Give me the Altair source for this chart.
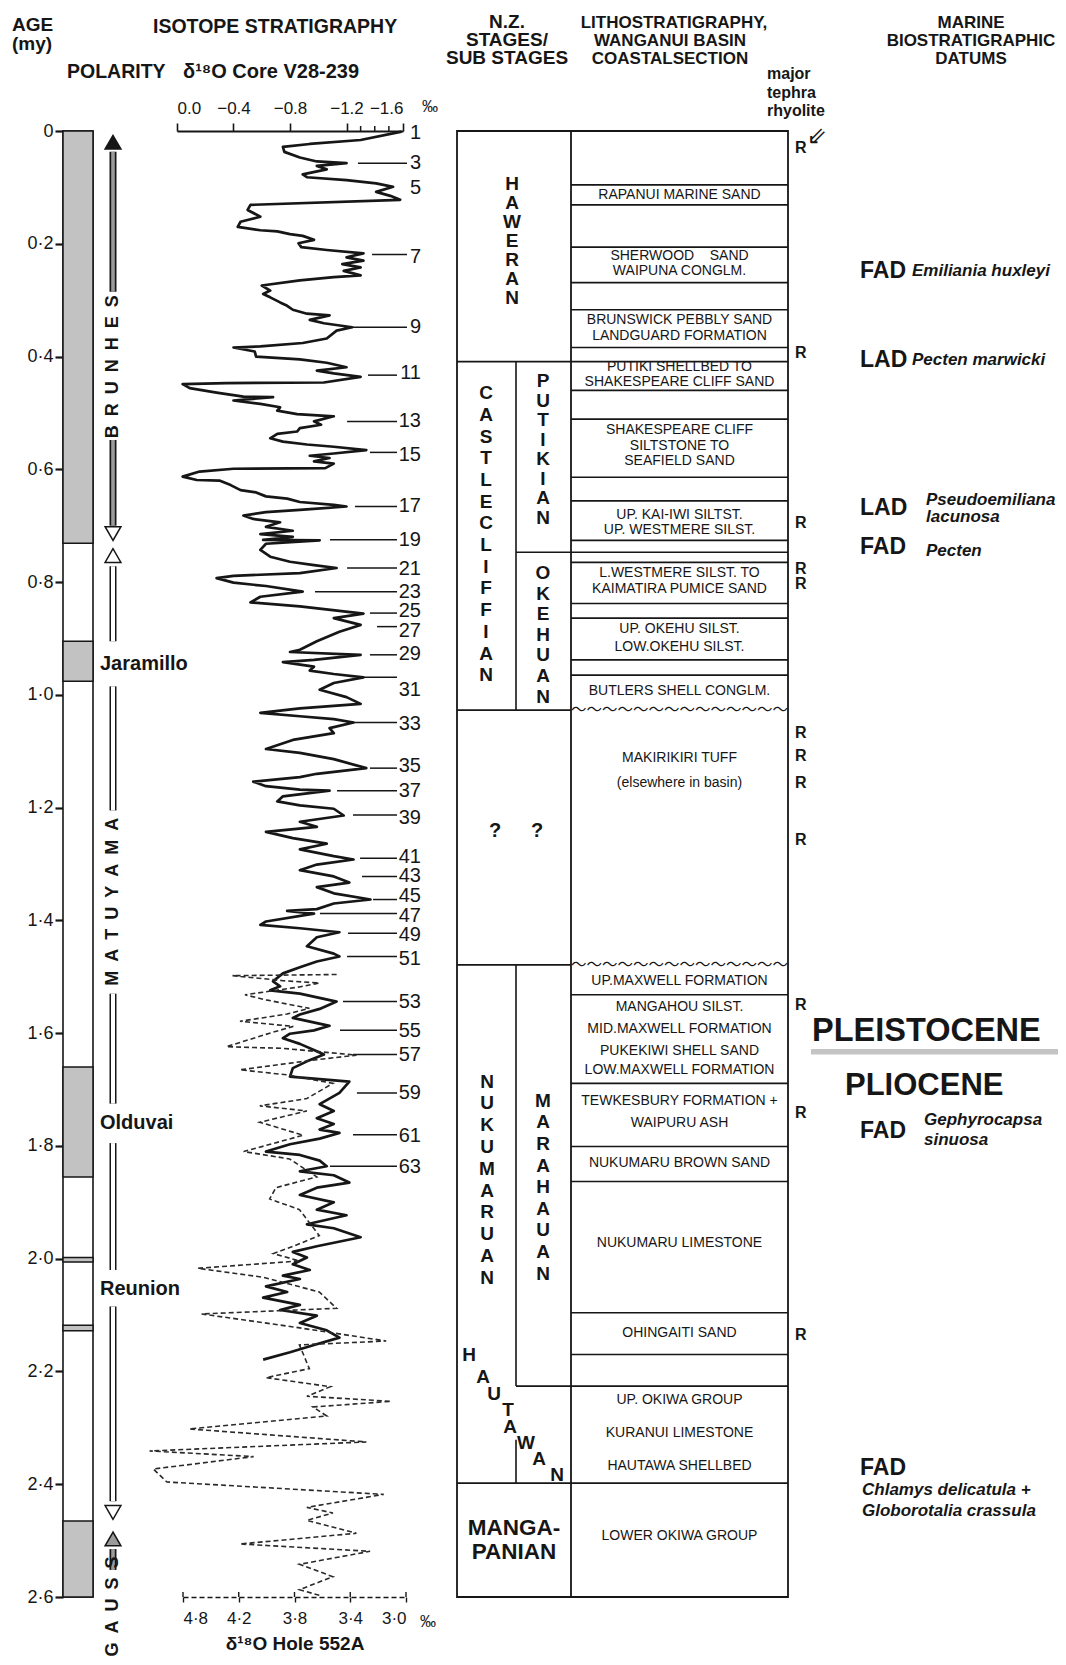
import altair as alt
import pandas as pd

FONT = "Liberation Sans"
INK = "#161616"
STIP = "#c2c2c2"
W, H = 995, 1466

# ---------------- data (ages in my, isotope values in per mil) ----------------
age_ticks = [0.0, 0.2, 0.4, 0.6, 0.8, 1.0, 1.2, 1.4, 1.6, 1.8, 2.0, 2.2, 2.4, 2.6]

normal_top = [0.0, 0.905, 1.660, 1.998, 2.118, 2.465]
normal_bottom = [0.731, 0.976, 1.855, 2.006, 2.128, 2.600]
epoch_names = ["Jaramillo", "Olduvai", "Reunion"]
epoch_age = [0.945, 1.760, 2.053]

chron_names = ["B\u2002R\u2002U\u2002N\u2002H\u2002E\u2002S",
               "M\u2002A\u2002T\u2002U\u2002Y\u2002A\u2002M\u2002A",
               "G\u2002A\u2002U\u2002S\u2002S"]
chron_age = [0.418, 1.367, 2.617]
brunhes_top = [0.037, 0.548]
brunhes_bottom = [0.285, 0.700]
matuyama_top = [0.772, 0.985, 1.530, 1.795, 2.085]
matuyama_bottom = [0.905, 1.205, 1.725, 2.020, 2.430]
gauss_top = [2.515]
gauss_bottom = [2.552]

v28_age = [0.001, 0.016, 0.023, 0.028, 0.037, 0.047, 0.054, 0.057, 0.062, 0.068, 0.077, 0.082, 0.087, 0.093,
           0.099, 0.108, 0.115, 0.122, 0.131, 0.140, 0.152, 0.161, 0.170, 0.176, 0.178, 0.183, 0.186, 0.193,
           0.199, 0.206, 0.211, 0.217, 0.224, 0.230, 0.236, 0.242, 0.248, 0.256, 0.259, 0.265, 0.274, 0.283,
           0.289, 0.295, 0.304, 0.310, 0.317, 0.324, 0.327, 0.335, 0.341, 0.348, 0.354, 0.368, 0.376, 0.382,
           0.384, 0.391, 0.400, 0.405, 0.411, 0.419, 0.425, 0.430, 0.436, 0.446, 0.447, 0.449, 0.456, 0.464,
           0.471, 0.472, 0.478, 0.484, 0.490, 0.496, 0.502, 0.506, 0.515, 0.521, 0.527, 0.533, 0.537, 0.545,
           0.551, 0.556, 0.560, 0.566, 0.572, 0.576, 0.580, 0.586, 0.590, 0.598, 0.599, 0.604, 0.613, 0.619,
           0.620, 0.628, 0.637, 0.641, 0.648, 0.652, 0.658, 0.663, 0.666, 0.672, 0.676, 0.682, 0.688, 0.694,
           0.702, 0.709, 0.715, 0.720, 0.725, 0.726, 0.732, 0.743, 0.755, 0.764, 0.770, 0.775, 0.784, 0.789,
           0.793, 0.801, 0.807, 0.817, 0.826, 0.836, 0.843, 0.856, 0.864, 0.876, 0.888, 0.905, 0.920, 0.924,
           0.929, 0.938, 0.942, 0.950, 0.957, 0.963, 0.969, 0.979, 0.991, 1.004, 1.016, 1.024, 1.032, 1.038,
           1.043, 1.049, 1.059, 1.068, 1.080, 1.096, 1.103, 1.114, 1.130, 1.140, 1.146, 1.154, 1.162, 1.168,
           1.170, 1.180, 1.189, 1.196, 1.202, 1.214, 1.225, 1.234, 1.243, 1.254, 1.264, 1.274, 1.286, 1.292,
           1.301, 1.311, 1.322, 1.333, 1.341, 1.352, 1.363, 1.370, 1.380, 1.383, 1.388, 1.402, 1.408, 1.414,
           1.421, 1.430, 1.446, 1.459, 1.464, 1.473, 1.483, 1.494, 1.508, 1.517, 1.524, 1.530, 1.544, 1.557,
           1.567, 1.573, 1.587, 1.595, 1.601, 1.609, 1.619, 1.632, 1.638, 1.650, 1.662, 1.677, 1.686, 1.706,
           1.726, 1.738, 1.751, 1.761, 1.771, 1.777, 1.787, 1.797, 1.810, 1.816, 1.826, 1.836, 1.845, 1.852,
           1.865, 1.874, 1.887, 1.900, 1.913, 1.923, 1.939, 1.946, 1.962, 1.978, 1.988, 1.998, 2.010, 2.020,
           2.030, 2.036, 2.049, 2.059, 2.069, 2.082, 2.091, 2.101, 2.114, 2.127, 2.140, 2.153, 2.166, 2.179]
v28_d18o = [-1.59, -1.30, -0.94, -0.75, -0.76, -0.87, -0.99, -1.20, -0.99, -1.06, -0.89, -0.92, -1.20, -1.41,
            -1.53, -1.41, -1.51, -1.58, -0.52, -0.50, -0.59, -0.45, -0.43, -0.59, -0.71, -0.80, -0.89, -0.97,
            -0.86, -0.88, -1.06, -1.32, -1.20, -1.32, -1.17, -1.30, -1.18, -1.30, -1.11, -0.87, -0.60, -0.66,
            -0.61, -0.66, -0.73, -0.78, -0.82, -0.92, -1.08, -0.94, -1.04, -1.24, -1.13, -1.06, -0.89, -0.59,
            -0.40, -0.55, -0.56, -0.87, -1.06, -1.20, -0.99, -1.11, -1.30, -1.04, -0.35, -0.04, -0.09, -0.28,
            -0.47, -0.68, -0.40, -0.59, -0.73, -0.71, -0.85, -1.11, -0.97, -1.02, -0.87, -0.85, -0.71, -0.66,
            -0.75, -0.92, -1.11, -1.34, -1.11, -0.94, -1.08, -0.97, -1.11, -1.05, -0.40, -0.16, -0.04, -0.14,
            -0.30, -0.38, -0.45, -0.56, -0.63, -0.78, -0.87, -1.11, -1.20, -0.87, -0.63, -0.47, -0.54, -0.73,
            -0.63, -0.82, -0.59, -0.82, -0.61, -1.01, -0.63, -0.59, -0.66, -0.80, -0.97, -1.13, -0.87, -0.40,
            -0.28, -0.40, -0.63, -0.89, -0.59, -0.52, -0.87, -1.32, -1.11, -1.30, -1.15, -0.99, -0.87, -0.80,
            -1.30, -0.97, -0.75, -0.97, -0.94, -1.11, -1.32, -1.11, -1.01, -1.20, -1.30, -0.87, -0.59, -0.87,
            -1.11, -1.25, -1.08, -1.11, -0.82, -0.63, -0.87, -1.11, -1.34, -0.99, -0.87, -0.54, -0.63, -0.87,
            -1.08, -0.75, -0.71, -0.87, -1.11, -1.18, -0.87, -0.99, -0.63, -0.82, -1.06, -0.87, -1.11, -1.25,
            -0.99, -0.87, -1.11, -1.22, -0.99, -1.11, -1.37, -1.11, -0.99, -0.78, -0.97, -0.63, -0.59, -0.87,
            -1.15, -0.99, -0.92, -1.11, -1.15, -0.99, -0.87, -0.75, -0.68, -0.73, -0.66, -0.87, -1.13, -1.01,
            -0.87, -0.82, -1.08, -0.97, -0.80, -0.75, -0.87, -0.99, -1.04, -0.92, -0.82, -0.80, -1.22, -1.15,
            -1.01, -1.11, -0.99, -1.11, -1.01, -1.15, -1.01, -0.80, -0.63, -0.87, -1.01, -1.06, -0.87, -1.11,
            -1.22, -0.99, -0.87, -1.11, -0.99, -1.20, -0.92, -1.11, -1.30, -0.99, -0.82, -0.92, -0.82, -0.94,
            -0.75, -0.87, -0.63, -0.78, -0.61, -0.87, -0.73, -0.99, -0.87, -1.06, -1.15, -0.97, -0.80, -0.61]

h552_age = [1.496, 1.498, 1.507, 1.511, 1.518, 1.532, 1.541, 1.556, 1.566, 1.579, 1.588, 1.600, 1.624, 1.627,
            1.639, 1.647, 1.665, 1.674, 1.689, 1.716, 1.729, 1.738, 1.758, 1.781, 1.810, 1.823, 1.855, 1.874,
            1.894, 1.913, 1.959, 1.978, 1.991, 2.004, 2.017, 2.033, 2.059, 2.088, 2.098, 2.121, 2.146, 2.153,
            2.195, 2.211, 2.227, 2.244, 2.253, 2.263, 2.279, 2.302, 2.325, 2.341, 2.351, 2.373, 2.396, 2.418,
            2.441, 2.451, 2.464, 2.487, 2.506, 2.519, 2.542, 2.564, 2.587, 2.597]
h552_d18o = [3.56, 4.40, 3.99, 3.70, 3.86, 4.30, 4.13, 3.78, 3.96, 4.34, 3.91, 4.10, 4.45, 3.99,
             3.40, 3.72, 4.34, 3.96, 3.59, 3.80, 4.18, 3.80, 4.18, 3.83, 4.31, 3.94, 3.72, 4.05,
             4.10, 3.86, 3.70, 3.91, 4.07, 3.86, 4.68, 4.15, 3.70, 3.56, 4.65, 3.91, 3.16, 3.86,
             3.78, 4.13, 3.61, 3.80, 3.12, 3.75, 3.64, 4.75, 3.32, 5.07, 4.23, 5.04, 4.93, 3.18,
             3.80, 3.59, 3.80, 3.40, 4.34, 3.29, 3.86, 3.59, 3.86, 3.70]
h552_tick_pos = [4.8, 4.35, 3.9, 3.45, 3.0]
h552_tick_text = ["4·8", "4·2", "3·8", "3·4", "3·0"]
v28_ticks = [0.0, -0.4, -0.8, -1.2, -1.6]
v28_minor = [-1.3, -1.4, -1.5]

stage_num = [1, 3, 5, 7, 9, 11, 13, 15, 17, 19, 21, 23, 25, 27, 29, 31, 33, 35, 37, 39, 41, 43, 45, 47, 49,
             51, 53, 55, 57, 59, 61, 63]
stage_label_age = [0.003, 0.056, 0.101, 0.224, 0.348, 0.430, 0.515, 0.575, 0.665, 0.725, 0.777, 0.817, 0.852,
                   0.887, 0.927, 0.991, 1.052, 1.127, 1.171, 1.219, 1.287, 1.322, 1.357, 1.392, 1.426, 1.468,
                   1.545, 1.596, 1.639, 1.707, 1.783, 1.837]
leader_num = [3, 7, 9, 11, 13, 15, 17, 19, 21, 23, 25, 27, 29, 31, 33, 35, 37, 39, 41, 43, 45, 47, 49, 51, 53,
              55, 57, 59, 61, 63]
leader_age = [0.057, 0.219, 0.348, 0.433, 0.515, 0.570, 0.666, 0.725, 0.775, 0.817, 0.855, 0.879, 0.929, 0.969,
              1.049, 1.130, 1.170, 1.213, 1.290, 1.322, 1.363, 1.388, 1.423, 1.464, 1.544, 1.595, 1.638, 1.706,
              1.780, 1.836]
leader_peak = [-1.281, -1.381, -1.239, -1.352, -1.204, -1.366, -1.260, -1.083, -1.204, -0.977, -1.366, -1.416,
               -1.366, -1.317, -1.204, -1.366, -1.133, -1.246, -1.296, -1.310, -1.388, -1.012, -1.211, -1.204,
               -1.175, -1.154, -1.246, -1.274, -1.246, -1.083]

# N.Z. stages (age of the first letter of each vertical name)
stage_full_lines = [0.409, 1.027, 1.479, 2.398]
substage_lines = [0.747, 2.226]
substage_div_top = [0.409, 1.479, 2.321]
substage_div_bottom = [1.027, 2.226, 2.398]
haweran_first = [0.094]
castlecliffian_first = [0.465]
putikian_first = [0.444]
okehuan_first = [0.784]
nukumaruan_first = [1.686]
marahauan_first = [1.720]
hautawan_letters = list("HAUTAWAN")
hautawan_age = [2.170, 2.210, 2.240, 2.268, 2.298, 2.326, 2.356, 2.383]
mangapanian = ["MANGA-", "PANIAN"]
mangapanian_age = [2.478, 2.521]
unknown_age = [1.242]

# lithostratigraphy
litho_lines = [0.0955, 0.131, 0.206, 0.269, 0.317, 0.384, 0.409, 0.460, 0.511, 0.614, 0.656, 0.726, 0.747,
               0.765, 0.838, 0.864, 0.938, 0.965, 1.532, 1.689, 1.801, 1.863, 2.096, 2.170, 2.226, 2.398]
unconformity_age = [1.027, 1.479]
litho_text = ["RAPANUI MARINE SAND", "SHERWOOD\u00a0\u00a0\u00a0\u00a0SAND", "WAIPUNA CONGLM.",
              "BRUNSWICK PEBBLY SAND", "LANDGUARD FORMATION", "PUTIKI SHELLBED TO", "SHAKESPEARE CLIFF SAND",
              "SHAKESPEARE CLIFF", "SILTSTONE TO", "SEAFIELD SAND", "UP. KAI-IWI SILTST.", "UP. WESTMERE SILST.",
              "L.WESTMERE SILST. TO", "KAIMATIRA PUMICE SAND", "UP. OKEHU SILST.", "LOW.OKEHU SILST.",
              "BUTLERS SHELL CONGLM.", "MAKIRIKIRI TUFF", "(elsewhere in basin)", "UP.MAXWELL FORMATION",
              "MANGAHOU SILST.", "MID.MAXWELL FORMATION", "PUKEKIWI SHELL SAND", "LOW.MAXWELL FORMATION",
              "TEWKESBURY FORMATION +", "WAIPURU ASH", "NUKUMARU BROWN SAND", "NUKUMARU LIMESTONE",
              "OHINGAITI SAND", "UP. OKIWA GROUP", "KURANUI LIMESTONE", "HAUTAWA SHELLBED", "LOWER OKIWA GROUP"]
litho_age = [0.113, 0.222, 0.249, 0.335, 0.363, 0.419, 0.445, 0.530, 0.558, 0.585, 0.681, 0.707, 0.784, 0.813,
             0.883, 0.915, 0.993, 1.112, 1.157, 1.508, 1.554, 1.592, 1.632, 1.666, 1.721, 1.759, 1.830, 1.972,
             2.132, 2.250, 2.309, 2.368, 2.492]
tephra_age = [0.030, 0.394, 0.696, 0.777, 0.804, 1.068, 1.109, 1.157, 1.257, 1.550, 1.742, 2.135]

# marine biostratigraphic datums
datum_kind = ["FAD", "LAD", "LAD", "FAD", "FAD", "FAD"]
datum_age = [0.248, 0.406, 0.669, 0.738, 1.773, 2.371]
species_a = ["Emiliania huxleyi", "Pecten marwicki"]
species_a_age = [0.248, 0.406]
species_b = ["Pseudoemiliana", "lacunosa", "Pecten"]
species_b_age = [0.655, 0.684, 0.745]
species_c = ["Gephyrocapsa", "sinuosa"]
species_c_age = [1.754, 1.789]
species_d = ["Chlamys delicatula +", "Globorotalia crassula"]
species_d_age = [2.411, 2.448]
epoch_text = ["PLEISTOCENE", "PLIOCENE"]
epoch_text_age = [1.596, 1.694]
boundary_top = [1.628]
boundary_bottom = [1.638]

# ---------------- helpers ----------------
YS = alt.Scale(domain=[0, 2.6], reverse=True, nice=False, zero=False)
AGE_AXIS = alt.Axis(values=age_ticks,
                    labelExpr="datum.value == 0 ? '0' : replace(format(datum.value, '.1f'), '.', '·')",
                    tickSize=8, tickWidth=2.2, tickColor=INK, domain=False, labelFontSize=18, labelFont=FONT,
                    labelColor=INK, labelPadding=2, grid=False, title=None)


def S_V28():
    return alt.Scale(domain=[0.0, -1.6], range=[114, 340], nice=False, zero=False)


def S_552():
    return alt.Scale(domain=[4.8, 3.0], range=[120, 343], nice=False, zero=False)


def Yq(field):
    return alt.Y(field, type="quantitative", scale=YS, axis=AGE_AXIS, title=None)


def const_text(s, x, y, size, weight="bold", align="left", baseline="alphabetic", font=FONT):
    return alt.Chart(pd.DataFrame({"t": [s]})).mark_text(
        font=font, fontSize=size, fontWeight=weight, align=align, baseline=baseline, color=INK
    ).encode(x=alt.value(x), y=alt.value(y), text="t:N")


def age_text(texts, ages, x, size, weight="bold", align="left", baseline="middle", style="normal",
             font=FONT, angle=0, line_height=None):
    df = pd.DataFrame({"t": texts, "age": ages})
    kw = dict(font=font, fontSize=size, fontWeight=weight, fontStyle=style, align=align,
              baseline=baseline, angle=angle, color=INK)
    if line_height is not None:
        kw.update(lineBreak="\n", lineHeight=line_height)
    return alt.Chart(df).mark_text(**kw).encode(x=alt.value(x), y=Yq("age:Q"), text="t:N")


def stack(name, first_age, x, line_height):
    return age_text(["\n".join(name)], first_age, x, 19, align="center", line_height=line_height)


def hrules(ages, x1, x2, width=1.6):
    return alt.Chart(pd.DataFrame({"age": ages})).mark_rule(color=INK, strokeWidth=width).encode(
        x=alt.value(x1), x2=alt.value(x2), y=Yq("age:Q"))


def vrules(tops, bottoms, x, width=1.6, color=INK):
    return alt.Chart(pd.DataFrame({"top": tops, "bottom": bottoms})).mark_rule(
        color=color, strokeWidth=width).encode(x=alt.value(x), y=Yq("top:Q"), y2="bottom:Q")


def rects(tops, bottoms, x1, x2, fill, stroke=INK, sw=1.5, opacity=1.0):
    kw = dict(fill=fill, opacity=opacity)
    if stroke is not None:
        kw.update(stroke=stroke, strokeWidth=sw)
    return alt.Chart(pd.DataFrame({"top": tops, "bottom": bottoms})).mark_rect(**kw).encode(
        x=alt.value(x1), x2=alt.value(x2), y=Yq("top:Q"), y2="bottom:Q")


def heads(ages, shape, fill):
    return alt.Chart(pd.DataFrame({"age": ages})).mark_point(
        shape=shape, filled=True, fill=fill, stroke=INK, strokeWidth=1.5, size=250, opacity=1
    ).encode(x=alt.value(ARROW_X), y=Yq("age:Q"))


# layout columns (pixels from the plot's left edge)
POL_X1, POL_X2 = 0, 30
ARROW_X = 50
EPOCH_X = 37
ST_L, ST_MID, ST_R, LI_R = 394, 453, 508, 725
LITHO_C = (ST_R + LI_R) / 2
R_X = 732
DAT_X = 797

layers = []

# ---- polarity column ----
layers.append(rects([0.0], [2.6], POL_X1, POL_X2, "white", sw=1.6))
layers.append(rects(normal_top, normal_bottom, POL_X1, POL_X2, STIP, sw=1.5))
layers.append(age_text(epoch_names, epoch_age, EPOCH_X, 20))

# ---- chron arrows ----
layers.append(vrules(brunhes_top, brunhes_bottom, ARROW_X, width=7))
layers.append(vrules(brunhes_top, brunhes_bottom, ARROW_X, width=3.6, color="#9a9a9a"))
layers.append(vrules(matuyama_top, matuyama_bottom, ARROW_X, width=7))
layers.append(vrules(matuyama_top, matuyama_bottom, ARROW_X, width=4, color="white"))
layers.append(vrules(gauss_top, gauss_bottom, ARROW_X, width=7))
layers.append(vrules(gauss_top, gauss_bottom, ARROW_X, width=3.6, color="#9a9a9a"))
layers.append(heads([0.020], "triangle-up", INK))
layers.append(heads([0.714, 2.450], "triangle-down", "white"))
layers.append(heads([0.753], "triangle-up", "white"))
layers.append(heads([2.497], "triangle-up", "#9a9a9a"))
layers.append(age_text(chron_names, chron_age, ARROW_X, 18, align="center", angle=270))

# ---- isotope curves ----
df_v28 = pd.DataFrame({"age": v28_age, "d": v28_d18o, "i": list(range(len(v28_age)))})
v28_axis = alt.Axis(orient="top", values=v28_ticks, format=".1f", tickSize=8, tickWidth=1.6, tickColor=INK,
                    domainColor=INK, domainWidth=1.8, labelFontSize=17, labelFont=FONT, labelColor=INK,
                    labelPadding=6, grid=False, title=None)
layers.append(alt.Chart(df_v28).mark_line(color=INK, strokeWidth=2.7, strokeJoin="round").encode(
    x=alt.X("d:Q", scale=S_V28(), axis=v28_axis, title=None), y=Yq("age:Q"), order="i:Q"))
layers.append(alt.Chart(pd.DataFrame({"v": v28_minor})).mark_rule(color=INK, strokeWidth=1.5).encode(
    x=alt.X("v:Q", scale=S_V28(), axis=None, title=None), y=alt.value(-5), y2=alt.value(0)))
df_lead = pd.DataFrame({"n": leader_num, "age": leader_age, "peak": leader_peak})
layers.append(alt.Chart(df_lead[df_lead["n"] >= 10]).mark_rule(color=INK, strokeWidth=1.5).encode(
    x=alt.X("peak:Q", scale=S_V28(), axis=None, title=None), x2=alt.value(334), y=Yq("age:Q")))
layers.append(alt.Chart(df_lead[df_lead["n"] < 10]).mark_rule(color=INK, strokeWidth=1.5).encode(
    x=alt.X("peak:Q", scale=S_V28(), axis=None, title=None), x2=alt.value(344), y=Yq("age:Q")))

df_552 = pd.DataFrame({"age": h552_age, "d": h552_d18o, "i": list(range(len(h552_age)))})
lab_expr = " : ".join(
    "datum.value > %.3f ? '%s'" % (p - 0.05, t) for p, t in zip(h552_tick_pos[:-1], h552_tick_text[:-1])
) + " : '%s'" % h552_tick_text[-1]
axis_552 = alt.Axis(orient="bottom", values=h552_tick_pos, labelExpr=lab_expr, tickSize=5, tickWidth=1.4,
                    tickColor=INK, domainColor=INK, domainWidth=1.6, domainDash=[5, 3], labelFontSize=17,
                    labelFont=FONT, labelColor=INK, labelPadding=8, grid=False,
                    title="δ¹⁸O Hole 552A", titleFont=FONT, titleFontSize=19, titleFontWeight="bold",
                    titleColor=INK, titlePadding=8)
layers.append(alt.Chart(df_552).mark_line(color="#2a2a2a", strokeWidth=1.6, strokeDash=[5, 3]).encode(
    x=alt.X("d:Q", scale=S_552(), axis=axis_552), y=Yq("age:Q"), order="i:Q"))
layers.append(alt.Chart(pd.DataFrame({"v": h552_tick_pos})).mark_rule(color=INK, strokeWidth=1.4).encode(
    x=alt.X("v:Q", scale=S_552(), axis=None, title=None), y=alt.value(H - 5), y2=alt.value(H)))

layers.append(age_text([str(n) for n in stage_num], stage_label_age, 358, 20, weight="normal", align="right"))

# ---- N.Z. stages column ----
layers.append(rects([0.0], [2.6], ST_L, LI_R, "white", sw=1.8))
layers.append(vrules([0.0], [2.6], ST_R, width=1.8))
layers.append(vrules(substage_div_top, substage_div_bottom, ST_MID, width=1.6))
layers.append(hrules(stage_full_lines, ST_L, ST_R, width=1.8))
layers.append(hrules(substage_lines, ST_MID, ST_R, width=1.6))
layers.append(stack("HAWERAN", haweran_first, 449, 19))
layers.append(stack("CASTLECLIFFIAN", castlecliffian_first, 423, 21.7))
layers.append(stack("PUTIKIAN", putikian_first, 480, 19.5))
layers.append(stack("OKEHUAN", okehuan_first, 480, 20.6))
layers.append(stack("NUKUMARUAN", nukumaruan_first, 424, 21.8))
layers.append(stack("MARAHAUAN", marahauan_first, 480, 21.6))
df_haut = pd.DataFrame({"t": hautawan_letters, "age": hautawan_age, "xo": [406, 420, 431, 445, 447, 463, 476, 494]})
layers.append(alt.Chart(df_haut).mark_text(font=FONT, fontSize=19, fontWeight="bold", align="center",
                                            baseline="middle", color=INK).encode(
    x=alt.X("xo:Q", scale=alt.Scale(domain=[0, W], range=[0, W]), axis=None, title=None),
    y=Yq("age:Q"), text="t:N"))
layers.append(age_text(mangapanian, mangapanian_age, (ST_L + ST_R) / 2, 22.5, align="center"))
layers.append(age_text(["?"], unknown_age, 432, 20, align="center"))
layers.append(age_text(["?"], unknown_age, 474, 20, align="center"))

# ---- lithostratigraphy column ----
layers.append(hrules(litho_lines, ST_R, LI_R, width=1.6))
layers.append(age_text(["\u301c" * 14 for _ in unconformity_age], unconformity_age, LITHO_C, 15.5,
                       weight="normal", align="center", font="Noto Sans CJK JP"))
layers.append(age_text(litho_text, litho_age, LITHO_C, 14, weight="normal", align="center"))
layers.append(age_text(["R"] * len(tephra_age), tephra_age, R_X, 16))
layers.append(age_text(["\u21d9"], [0.010], 754, 24, weight="normal", align="center", font="DejaVu Sans"))

# ---- biostratigraphic datums ----
layers.append(age_text(datum_kind, datum_age, DAT_X, 23))
layers.append(age_text(species_a, species_a_age, 849, 17, style="italic"))
layers.append(age_text(species_b, species_b_age, 863, 17, style="italic"))
layers.append(age_text(species_c, species_c_age, 861, 17, style="italic"))
layers.append(age_text(species_d, species_d_age, 799, 17, style="italic"))
layers.append(rects(boundary_top, boundary_bottom, 748, W, "#9c9c9c", stroke=None, opacity=0.6))
layers.append(age_text(epoch_text[:1], epoch_text_age[:1], 749, 32.5))
layers.append(age_text(epoch_text[1:], epoch_text_age[1:], 782, 31))

# ---- headers ----
layers += [
    const_text("AGE", -51, -100, 19),
    const_text("(my)", -51, -81, 19),
    const_text("ISOTOPE STRATIGRAPHY", 90, -98, 19.5),
    const_text("POLARITY", 4, -53, 19.5),
    const_text("δ¹⁸O Core V28-239", 120, -53, 20),
    const_text("‰", 359, -19, 16, weight="normal"),
    const_text("‰", 357, 1496, 16, weight="normal"),
    const_text("N.Z.", 444, -103, 19, align="center"),
    const_text("STAGES/", 444, -85, 19, align="center"),
    const_text("SUB STAGES", 444, -67, 19, align="center"),
    const_text("LITHOSTRATIGRAPHY,", 611, -103, 17, align="center"),
    const_text("WANGANUI BASIN", 607, -85, 17, align="center"),
    const_text("COASTALSECTION", 607, -67, 17, align="center"),
    const_text("major", 704, -52, 16),
    const_text("tephra", 704, -33, 16),
    const_text("rhyolite", 704, -15, 16),
    const_text("MARINE", 908, -103, 17, align="center"),
    const_text("BIOSTRATIGRAPHIC", 908, -85, 17, align="center"),
    const_text("DATUMS", 908, -67, 17, align="center"),
]

chart = alt.layer(*layers).resolve_scale(x="independent").properties(
    width=W, height=H,
    autosize=alt.AutoSizeParams(type="none"),
    padding={"left": 55, "top": 123, "right": 0, "bottom": 60},
    background="white",
).configure_view(stroke=None)

chart.save("out.html", embed_options={"renderer": "svg", "actions": False})
